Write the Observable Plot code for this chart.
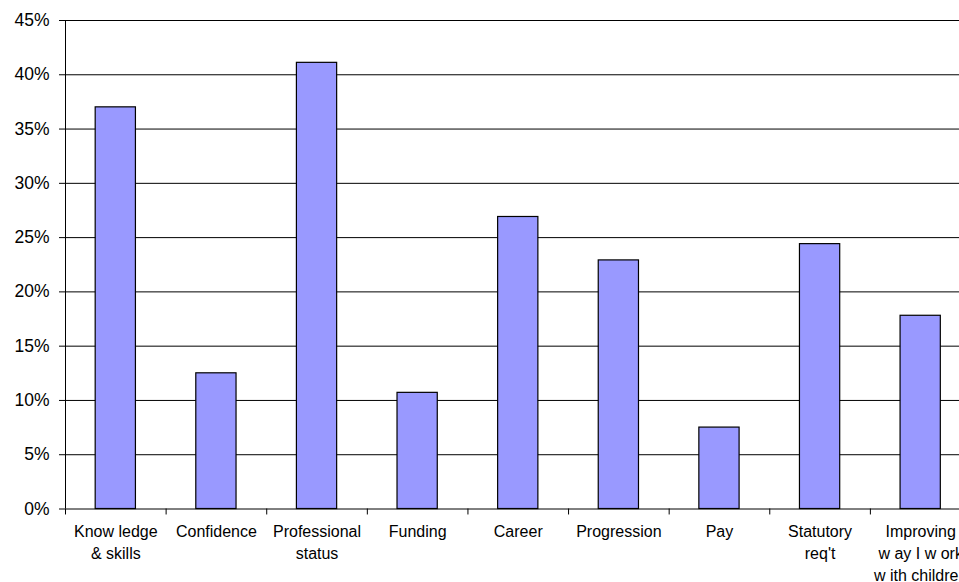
<!DOCTYPE html>
<html>
<head>
<meta charset="utf-8">
<script src="https://cdn.jsdelivr.net/npm/d3@7"></script>
<script src="https://cdn.jsdelivr.net/npm/@observablehq/plot@0.6"></script>
<style>
  html, body { margin: 0; padding: 0; background: #fff; overflow: hidden; }
  #chart { width: 959px; height: 582px; overflow: hidden; }
</style>
</head>
<body>
<div id="chart"></div>
<script>
const categories = [
  "Know ledge\n& skills",
  "Confidence",
  "Professional\nstatus",
  "Funding",
  "Career",
  "Progression",
  "Pay",
  "Statutory\nreq't",
  "Improving\nw ay I w ork\nw ith children"
];
const values = [0.370, 0.125, 0.411, 0.107, 0.269, 0.229, 0.075, 0.244, 0.178];
const yTicks = [0, 0.05, 0.10, 0.15, 0.20, 0.25, 0.30, 0.35, 0.40, 0.45];

const data = categories.map((c, i) => ({cat: c, value: values[i]}));

const xRange = [65, 970.5];
const step = (xRange[1] - xRange[0]) / categories.length;

const chart = Plot.plot({
  width: 959,
  height: 582,
  marginLeft: 65,
  marginRight: -11.5,
  marginTop: 20,
  marginBottom: 73.5,
  style: {fontFamily: "'Liberation Sans', Arial, sans-serif", fontSize: "16px", color: "#000", background: "#fff"},
  x: {domain: categories, range: xRange, paddingInner: 0.6, paddingOuter: 0.3, round: false},
  y: {domain: [0, 0.45], range: [508.5, 20]},
  marks: [
    Plot.ruleY(yTicks, {y: d => d, stroke: "#000", strokeWidth: 1, strokeOpacity: 1}),
    Plot.barY(data, {x: "cat", y: "value", fill: "#9999ff", stroke: "#000", strokeWidth: 1.2}),
    Plot.ruleX([categories[0]], {x: d => d, dx: -step / 2, y1: 0, y2: 0.45, stroke: "#000", strokeWidth: 1}),
    Plot.ruleX(categories, {x: d => d, dx: -step / 2, y1: 0, y2: -0.0055, stroke: "#000", strokeWidth: 1}),
    Plot.axisY({
      ticks: yTicks,
      tickFormat: d => Math.round(d * 100) + "%",
      tickSize: 6,
      tickPadding: 10,
      fontSize: 17.5,
      label: null,
      stroke: "#000"
    }),
    Plot.axisX({
      tickSize: 0,
      tickPadding: 13,
      fontSize: 16,
      lineHeight: 1.35,
      label: null
    })
  ]
});
document.getElementById("chart").appendChild(chart);
</script>
</body>
</html>
